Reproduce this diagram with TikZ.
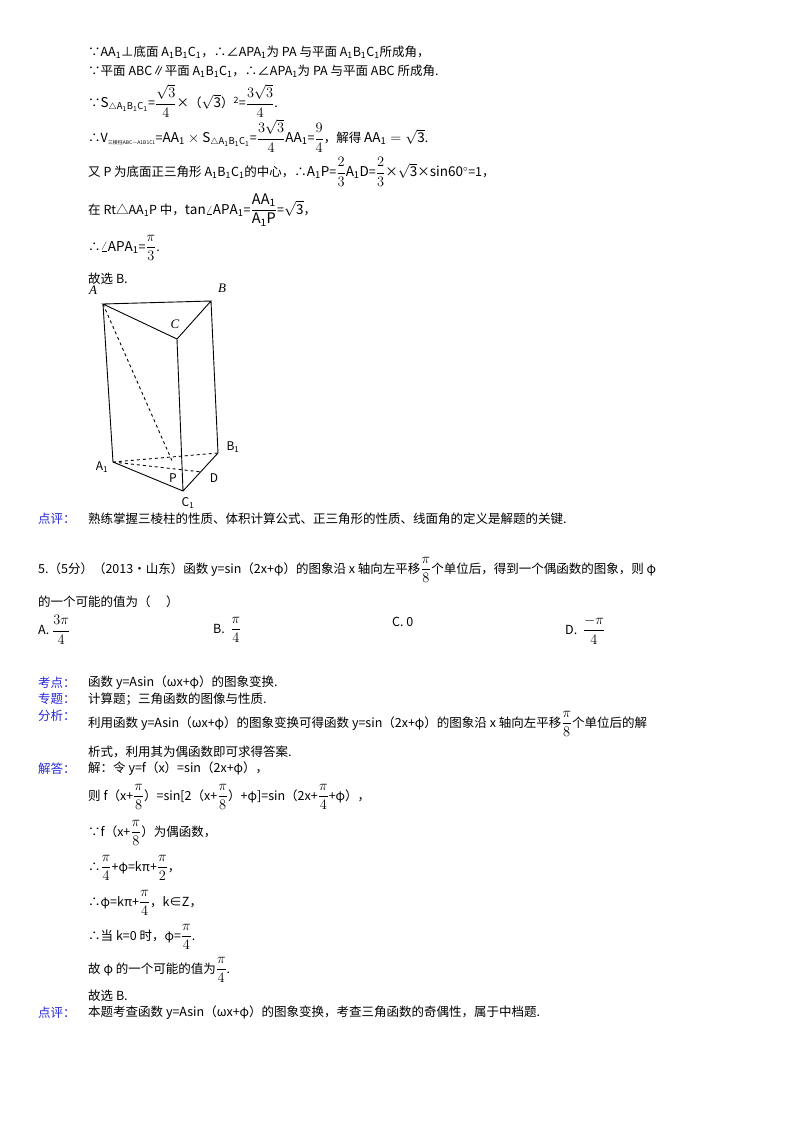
\documentclass[tikz,border=0pt]{standalone}
\usepackage{amsmath}
\usepackage{fontspec}
\setmainfont{Noto Sans CJK SC}
\newfontfamily\serif{Liberation Serif}
\definecolor{lab}{RGB}{40,40,220}
\newcommand{\sq}{\sqrt{3}}
\newcommand{\F}[2]{{\fontsize{14.5}{16}\selectfont\(\dfrac{#1}{#2}\)}}
\newcommand{\M}[1]{{\fontsize{13.5}{15}\selectfont\(\mathrm{#1}\)}}
\begin{document}
\begin{tikzpicture}[x=1pt,y=-1pt,
  t/.style={anchor=west,inner sep=0pt,font=\fontsize{12.5}{14}\selectfont},
  lb/.style={t,text=lab},
  fig/.style={line width=0.9pt},
  vl/.style={inner sep=1pt,font=\fontsize{12}{13}\selectfont}]
\useasboundingbox (0,0) rectangle (800,1132);
\fill[white] (0,0) rectangle (800,1132);
% top solution
\node[t] (l1) at (88,52) {∵AA\textsubscript{1}⊥底面 A\textsubscript{1}B\textsubscript{1}C\textsubscript{1}，∴∠APA\textsubscript{1}为 PA 与平面 A\textsubscript{1}B\textsubscript{1}C\textsubscript{1}所成角，};
\node[t] (l2) at (88,71) {∵平面 ABC∥平面 A\textsubscript{1}B\textsubscript{1}C\textsubscript{1}，∴∠APA\textsubscript{1}为 PA 与平面 ABC 所成角.};
\node[t] (l3) at (88,101) {∵\M{S_{\triangle A_1B_1C_1}}=\F{\sq}{4}×（\M{\sq}）\textsuperscript{2}=\F{3\sq}{4}.};
\node[t] (l4) at (88,136) {∴V\textsubscript{\tiny 三棱柱ABC－A1B1C1}=\M{AA_1\times S_{\triangle A_1B_1C_1}}=\F{3\sq}{4}\M{AA_1}=\F{9}{4}，解得 \M{AA_1=\sq}.};
\node[t] (l5) at (88,172) {又 P 为底面正三角形 A\textsubscript{1}B\textsubscript{1}C\textsubscript{1}的中心，∴\M{A_1P}=\F{2}{3}\M{A_1D}=\F{2}{3}×\M{\sq}×\M{sin60^\circ}=1，};
\node[t] (l6) at (88,210) {在 Rt△AA\textsubscript{1}P 中，\M{tan\angle APA_1}=\F{\mathrm{AA_1}}{\mathrm{A_1P}}=\M{\sq}，};
\node[t] (l7) at (88,248) {∴\M{\angle APA_1}=\F{\pi}{3}.};
\node[t] (l8) at (88,279) {故选 B.};
% figure
\coordinate (A) at (103,304); \coordinate (B) at (211,301); \coordinate (C) at (177,339);
\coordinate (A1) at (113,462); \coordinate (B1) at (218,453); \coordinate (C1) at (183,491);
\coordinate (D) at (202,472); \coordinate (P) at (173,463);
\draw[fig] (A)--(B)--(C)--cycle (A)--(A1)--(C1)--(B1)--(B) (C)--(C1);
\draw[fig,dashed] (A)--(P) (A1)--(B1) (A1)--(D);
\node[vl,font=\fontsize{13}{14}\serif\itshape] (nA) at (93,290) {A};
\node[vl,font=\fontsize{13}{14}\serif\itshape] (nB) at (222,288) {B};
\node[vl,font=\fontsize{13}{14}\serif\itshape] (nC) at (175,324) {C};
\node[vl] (nA1) at (102,467) {A\textsubscript{1}};
\node[vl] (nB1) at (233,447) {B\textsubscript{1}};
\node[vl] (nC1) at (188,503) {C\textsubscript{1}};
\node[vl] (nP) at (173,478) {P};
\node[vl] (nD) at (214,478) {D};
\node[lb] (d1) at (38,519) {点评：};
\node[t] (d1t) at (88,519) {熟练掌握三棱柱的性质、体积计算公式、正三角形的性质、线面角的定义是解题的关键.};
% question 5
\node[t] (q1) at (38,570) {5.（5分）（2013•山东）函数 y=sin（2x+φ）的图象沿 x 轴向左平移\F{\pi}{8}个单位后，得到一个偶函数的图象，则 φ};
\node[t] (q2) at (38,602) {的一个可能的值为（\quad\ ）};
\node[t] (oA) at (38,630) {A.\ \F{3\pi}{4}};
\node[t] (oB) at (213,630) {B.\ \ \F{\pi}{4}};
\node[t] (oC) at (392,622) {C.\ 0};
\node[t] (oD) at (565,630) {D.\ \ \F{-\pi}{4}};
\node[lb] (k1) at (38,683) {考点：};
\node[t] (k1t) at (88,683) {函数 y=Asin（ωx+φ）的图象变换.};
\node[lb] (k2) at (38,699) {专题：};
\node[t] (k2t) at (88,699) {计算题；三角函数的图像与性质.};
\node[lb] (k3) at (38,716) {分析：};
\node[t] (k3a) at (88,724) {利用函数 y=Asin（ωx+φ）的图象变换可得函数 y=sin（2x+φ）的图象沿 x 轴向左平移\F{\pi}{8}个单位后的解};
\node[t] (k3b) at (88,752) {析式，利用其为偶函数即可求得答案.};
\node[lb] (k4) at (38,769) {解答：};
\node[t] (s1) at (88,769) {解：令 y=f（x）=sin（2x+φ），};
\node[t] (s2) at (88,797) {则 f（x+\F{\pi}{8}）=sin[2（x+\F{\pi}{8}）+φ]=sin（2x+\F{\pi}{4}+φ），};
\node[t] (s3) at (88,833) {∵f（x+\F{\pi}{8}）为偶函数，};
\node[t] (s4) at (88,868) {∴\F{\pi}{4}+φ=kπ+\F{\pi}{2}，};
\node[t] (s5) at (88,903) {∴φ=kπ+\F{\pi}{4}，k∈Z，};
\node[t] (s6) at (88,937) {∴当 k=0 时，φ=\F{\pi}{4}.};
\node[t] (s7) at (88,970) {故 φ 的一个可能的值为\F{\pi}{4}.};
\node[t] (s8) at (88,996) {故选 B.};
\node[lb] (k5) at (38,1013) {点评：};
\node[t] (k5t) at (88,1013) {本题考查函数 y=Asin（ωx+φ）的图象变换，考查三角函数的奇偶性，属于中档题.};
\end{tikzpicture}
\end{document}
